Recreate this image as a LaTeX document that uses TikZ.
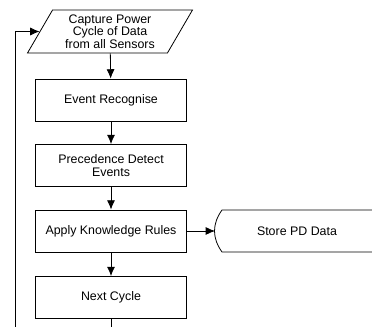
\documentclass[tikz,border=0pt]{standalone}
\usepackage{fontspec}
\setmainfont{Liberation Sans}
\usetikzlibrary{shapes.geometric, arrows.meta}

\tikzset{
  stepbox/.style={draw, rectangle, align=center, minimum width=113.25pt, minimum height=31.5pt, inner sep=1pt},
  iobox/.style={draw, trapezium, trapezium left angle=60, trapezium right angle=120, trapezium stretches=true,
    align=center, minimum width=124.5pt, minimum height=32.25pt, inner sep=0pt}
}

\begin{document}
\begin{tikzpicture}[x=0.75pt, y=-0.75pt, line width=0.6pt, >={Latex[length=7pt,width=6pt]},
    font=\fontsize{9.3}{9.4}\selectfont]
    \useasboundingbox (0,0) rectangle (372,327);
    \clip (0,0) rectangle (372,327);

    \node[iobox] (capture) at (110,31.5) {Capture Power\\Cycle of Data\\from all Sensors};
    \node[stepbox] (recog) at (111,100) {Event Recognise};
    \node[stepbox] (detect) at (111,165.5) {Precedence Detect\\Events};
    \node[stepbox] (rules) at (111,231) {Apply Knowledge Rules};
    \node[stepbox] (next) at (111,297.5) {Next Cycle};
    \node (store) at (297,231) {Store PD Data};
    \coordinate (storein) at (215,231);
    \coordinate (loop) at (15,345);

    % stored data outline, open to the right
    \draw (390,210) -- (222,210) .. controls (212,224) and (212,238) .. (222,252) -- (390,252);

    \draw[->] (capture) -- (recog);
    \draw[->] (recog) -- (detect);
    \draw[->] (detect) -- (rules);
    \draw[->] (rules) -- (next);
    \draw[->] (rules.east) -- (storein);
    \draw[->] (next.south) |- (loop) |- (capture.west);
\end{tikzpicture}
\end{document}
